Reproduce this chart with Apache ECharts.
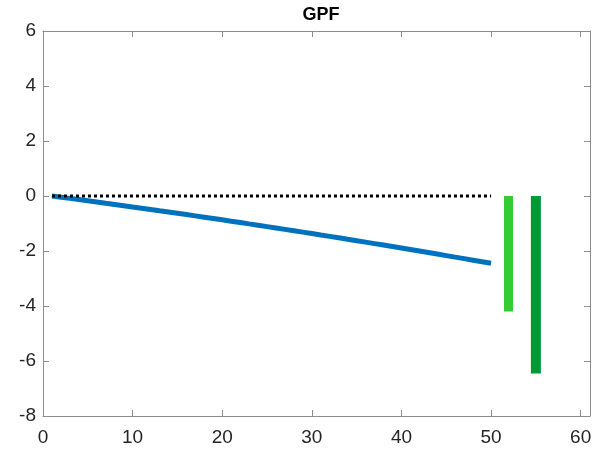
<!DOCTYPE html>
<html>
<head>
<meta charset="utf-8">
<script src="https://cdn.jsdelivr.net/npm/echarts@6/dist/echarts.min.js"></script>
<style>
  html, body { margin: 0; padding: 0; background: #fff; }
  #chart { width: 602px; height: 449px; }
</style>
</head>
<body>
<div id="chart"></div>
<script>
// Horizon (periods) for the GPF response path
const periods = [];
for (let i = 1; i <= 50; i++) periods.push(i);

// GPF response along the horizon
const gpfPath = [
  0, -0.043, -0.087, -0.130, -0.174, -0.218, -0.263, -0.307, -0.352, -0.398,
  -0.443, -0.489, -0.536, -0.582, -0.629, -0.676, -0.723, -0.771, -0.819, -0.867,
  -0.916, -0.964, -1.014, -1.063, -1.113, -1.163, -1.213, -1.263, -1.314, -1.365,
  -1.417, -1.468, -1.520, -1.573, -1.625, -1.678, -1.731, -1.784, -1.838, -1.892,
  -1.946, -2.001, -2.056, -2.111, -2.167, -2.223, -2.278, -2.334, -2.391, -2.448
];

// Zero reference line
const zeroLine = periods.map(() => 0);

// Summary bars: position and value
const barLightX = 52;
const barLightValue = -4.2;
const barDarkX = 55;
const barDarkValue = -6.45;

// Axis ticks
const xTicks = [0, 10, 20, 30, 40, 50, 60];
const yTicks = [-8, -6, -4, -2, 0, 2, 4, 6];

const axisGray = '#8c8c8c';
const labelColor = '#262626';
const fontFam = '"Liberation Sans Narrow", "Liberation Sans", Arial, Helvetica, sans-serif';

const chart = echarts.init(document.getElementById('chart'), null, { renderer: 'canvas' });

const baseX = {
  type: 'value', min: 0, max: 61.04, interval: 10,
  axisLine: { show: true, onZero: false, lineStyle: { color: axisGray, width: 1 } },
  axisTick: { show: true, inside: true, length: 6, lineStyle: { color: axisGray } },
  splitLine: { show: false },
  axisLabel: { show: true, color: labelColor, fontSize: 19, fontFamily: fontFam, margin: 12,
    formatter: v => (xTicks.includes(v) ? String(v) : '') }
};
const baseY = {
  type: 'value', min: -8, max: 6, interval: 2,
  axisLine: { show: true, onZero: false, lineStyle: { color: axisGray, width: 1 } },
  axisTick: { show: true, inside: true, length: 6, lineStyle: { color: axisGray } },
  splitLine: { show: false },
  axisLabel: { show: true, color: labelColor, fontSize: 19, fontFamily: fontFam, margin: 7,
    formatter: v => (yTicks.includes(v) ? String(v) : '') }
};

chart.setOption({
  animation: false,
  backgroundColor: '#ffffff',
  title: {
    text: 'GPF', left: 316, top: 1, textAlign: 'center',
    textStyle: { fontSize: 18, fontWeight: 'bold', color: '#000', fontFamily: fontFam }
  },
  grid: { left: 43, right: 12, top: 31, bottom: 33, containLabel: false },
  xAxis: [
    Object.assign({}, baseX, { position: 'bottom' }),
    Object.assign({}, baseX, { position: 'top', axisLabel: { show: false } })
  ],
  yAxis: [
    Object.assign({}, baseY, { position: 'left' }),
    Object.assign({}, baseY, { position: 'right', axisLabel: { show: false } })
  ],
  series: [
    {
      type: 'line', xAxisIndex: 0, yAxisIndex: 0,
      data: periods.map((p, i) => [p, zeroLine[i]]),
      showSymbol: false, silent: true, z: 3,
      lineStyle: { color: '#000000', width: 3, type: [3, 3] }
    },
    {
      type: 'line', xAxisIndex: 0, yAxisIndex: 0,
      data: periods.map((p, i) => [p, gpfPath[i]]),
      showSymbol: false, silent: true, z: 2,
      lineStyle: { color: '#0072BD', width: 5, cap: 'butt' }
    },
    {
      type: 'bar', xAxisIndex: 0, yAxisIndex: 0,
      data: [[barLightX, barLightValue]],
      barWidth: 9, silent: true,
      itemStyle: { color: '#33CC33' }
    },
    {
      type: 'bar', xAxisIndex: 0, yAxisIndex: 0,
      data: [[barDarkX, barDarkValue]],
      barWidth: 10, barGap: '-100%', silent: true,
      itemStyle: { color: '#009933' }
    }
  ]
});
</script>
</body>
</html>
